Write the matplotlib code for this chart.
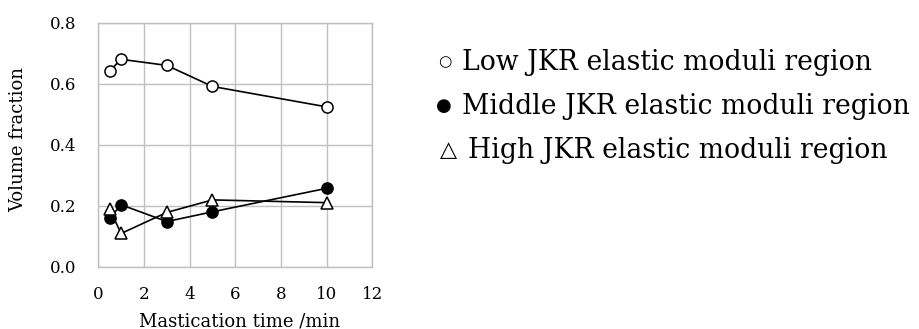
import matplotlib
matplotlib.use("Agg")
import matplotlib.pyplot as plt

plt.rcParams['font.family'] = ['DejaVu Serif', 'DejaVu Sans']

time_min = [0.5, 1, 3, 5, 10]
low_region = [0.642, 0.680, 0.660, 0.591, 0.524]
middle_region = [0.159, 0.203, 0.148, 0.180, 0.257]
high_region = [0.188, 0.109, 0.178, 0.219, 0.210]

x_ticks = [0, 2, 4, 6, 8, 10, 12]
y_ticks = [0.0, 0.2, 0.4, 0.6, 0.8]
legend_symbols = ["\u25cb", "\u25cf", "\u25b3"]
legend_labels = ["Low JKR elastic moduli region",
                 "Middle JKR elastic moduli region",
                 "High JKR elastic moduli region"]

W, H = 920, 329
fig = plt.figure(figsize=(W / 100, H / 100), dpi=100)
ax = fig.add_axes([98.3 / W, 1 - 266.7 / H, 274 / W, 244 / H])

line_kw = dict(color='black', linewidth=1.2, markersize=8, markeredgewidth=1.1,
               markeredgecolor='black', clip_on=False, zorder=3)
ax.plot(time_min, middle_region, marker='o', markerfacecolor='black', **line_kw)
ax.plot(time_min, high_region, marker='^', markerfacecolor='white', **line_kw)
ax.plot(time_min, low_region, marker='o', markerfacecolor='white', **line_kw)

ax.set_xlim(0, 12)
ax.set_ylim(0, 0.8)
ax.set_xticks(x_ticks)
ax.set_yticks(y_ticks)
ax.set_yticklabels([f"{v:.1f}" for v in y_ticks])
ax.grid(True, color='#c0c0c0', linewidth=1.0)
ax.set_axisbelow(True)
for s in ax.spines.values():
    s.set_color('#c0c0c0')
    s.set_linewidth(1.0)
ax.tick_params(axis='both', length=0, labelsize=12)
ax.tick_params(axis='y', pad=16)
ax.tick_params(axis='x', pad=14)

ax.set_xlabel("Mastication time /min", fontsize=13, va='center')
ax.xaxis.set_label_coords((240 - 98.3) / 274, (266.7 - 321) / 244)
ax.set_ylabel("Volume fraction", fontsize=13, va='center')
ax.yaxis.set_label_coords((18 - 98.3) / 274, (266.7 - 140) / 244)

# legend written as text lines to the right of the plot
rows_y = [62, 106, 150]
sym_x = [451, 452, 457]
sym_size = [11, 13, 16]
text_x = [462, 462, 468]
for sym, lab, y, sx, ss, tx in zip(legend_symbols, legend_labels, rows_y,
                                   sym_x, sym_size, text_x):
    fig.text(sx / W, 1 - y / H, sym, fontsize=ss, va='center', ha='right',
             family=['DejaVu Sans'])
    fig.text(tx / W, 1 - y / H, lab, fontsize=19.2, va='center', ha='left')

fig.savefig("out.png", dpi=100, facecolor='white')
